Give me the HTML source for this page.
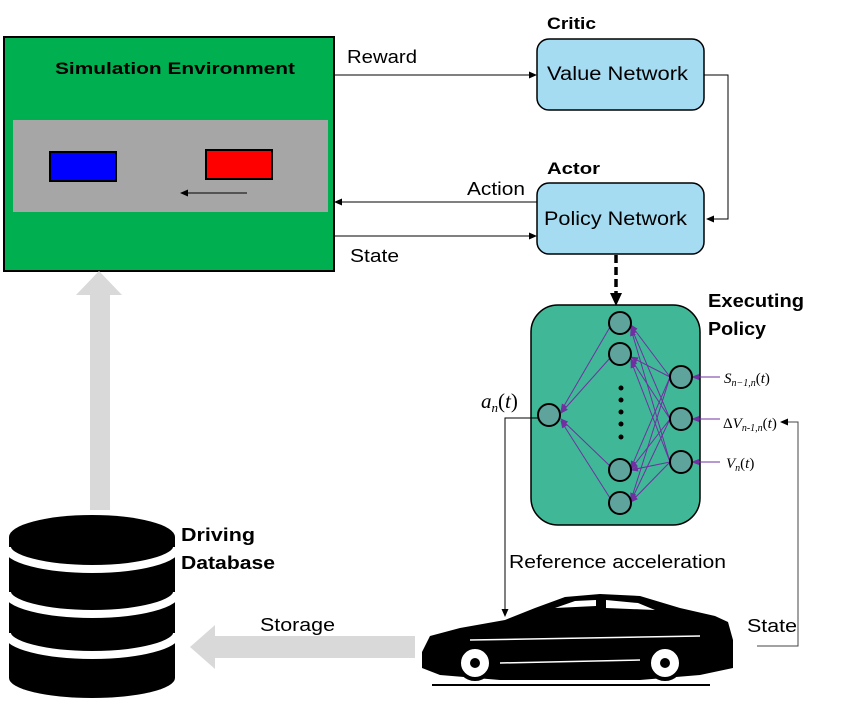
<!DOCTYPE html>
<html><head><meta charset="utf-8"><style>
html,body{margin:0;padding:0;background:#fff;}
svg{display:block;}
text{font-family:"Liberation Sans",sans-serif;}
</style></head><body>
<svg width="843" height="704" viewBox="0 0 843 704" xmlns="http://www.w3.org/2000/svg">
<defs>
<marker id="ah" markerWidth="8" markerHeight="8" refX="7" refY="4" orient="auto" markerUnits="userSpaceOnUse"><path d="M0,0.5 L8,4 L0,7.5 Z" fill="#000"/></marker>
<marker id="ahp" markerWidth="8" markerHeight="8" refX="7" refY="4" orient="auto" markerUnits="userSpaceOnUse"><path d="M0,1 L8,4 L0,7 Z" fill="#7030a0"/></marker>
</defs>

<!-- Simulation environment -->
<rect x="4" y="37" width="330" height="234" fill="#00b050" stroke="#000" stroke-width="2"/>
<text x="55" y="74" font-size="17" font-weight="bold" textLength="240" lengthAdjust="spacingAndGlyphs">Simulation Environment</text>
<rect x="13" y="120" width="315" height="92" fill="#a6a6a6"/>
<rect x="50" y="152" width="66" height="29" fill="#0000ff" stroke="#000" stroke-width="2"/>
<rect x="206" y="150" width="66" height="29" fill="#ff0000" stroke="#000" stroke-width="2"/>
<line x1="247" y1="193" x2="181" y2="193" stroke="#000" stroke-width="1" marker-end="url(#ah)"/>

<!-- Critic / Actor -->
<text x="547" y="29" font-size="17" font-weight="bold" textLength="49" lengthAdjust="spacingAndGlyphs">Critic</text>
<rect x="537" y="39" width="167" height="71" rx="12" fill="#a5dcf2" stroke="#000" stroke-width="1.5"/>
<text x="547" y="80" font-size="19" textLength="141" lengthAdjust="spacingAndGlyphs">Value Network</text>
<text x="547" y="174" font-size="17" font-weight="bold" textLength="53" lengthAdjust="spacingAndGlyphs">Actor</text>
<rect x="537" y="183" width="167" height="71" rx="12" fill="#a5dcf2" stroke="#000" stroke-width="1.5"/>
<text x="544" y="225" font-size="19" textLength="143" lengthAdjust="spacingAndGlyphs">Policy Network</text>

<!-- connectors top -->
<line x1="334" y1="75" x2="536" y2="75" stroke="#000" stroke-width="1" marker-end="url(#ah)"/>
<text x="347" y="63" font-size="18" textLength="70" lengthAdjust="spacingAndGlyphs">Reward</text>
<line x1="537" y1="202" x2="335" y2="202" stroke="#000" stroke-width="1" marker-end="url(#ah)"/>
<text x="467" y="195" font-size="18" textLength="58" lengthAdjust="spacingAndGlyphs">Action</text>
<line x1="334" y1="236" x2="536" y2="236" stroke="#000" stroke-width="1" marker-end="url(#ah)"/>
<text x="350" y="262" font-size="18" textLength="49" lengthAdjust="spacingAndGlyphs">State</text>
<polyline points="704,75 728,75 728,219 707,219" fill="none" stroke="#000" stroke-width="1" marker-end="url(#ah)"/>
<line x1="616" y1="255" x2="616" y2="295" stroke="#000" stroke-width="3.5" stroke-dasharray="8,4"/>
<path d="M610,293 L622,293 L616,306 Z" fill="#000"/>

<!-- Executing policy -->
<text x="708" y="307" font-size="18" font-weight="bold" textLength="96" lengthAdjust="spacingAndGlyphs">Executing</text>
<text x="708" y="335" font-size="18" font-weight="bold" textLength="58" lengthAdjust="spacingAndGlyphs">Policy</text>
<rect x="531" y="305" width="169" height="220" rx="27" fill="#40b898" stroke="#000" stroke-width="1.5"/>
<g stroke="#7030a0" stroke-width="1" fill="none">
<line x1="610" y1="327" x2="561" y2="411" marker-end="url(#ahp)"/>
<line x1="610" y1="358" x2="561" y2="413" marker-end="url(#ahp)"/>
<line x1="610" y1="466" x2="561" y2="419" marker-end="url(#ahp)"/>
<line x1="610" y1="498" x2="561" y2="421" marker-end="url(#ahp)"/>
<line x1="670" y1="377" x2="631" y2="325" marker-end="url(#ahp)"/>
<line x1="670" y1="377" x2="631" y2="357" marker-end="url(#ahp)"/>
<line x1="670" y1="377" x2="631" y2="468" marker-end="url(#ahp)"/>
<line x1="670" y1="377" x2="631" y2="500" marker-end="url(#ahp)"/>
<line x1="670" y1="419" x2="631" y2="327" marker-end="url(#ahp)"/>
<line x1="670" y1="419" x2="631" y2="359" marker-end="url(#ahp)"/>
<line x1="670" y1="419" x2="631" y2="469" marker-end="url(#ahp)"/>
<line x1="670" y1="419" x2="631" y2="501" marker-end="url(#ahp)"/>
<line x1="670" y1="462" x2="631" y2="329" marker-end="url(#ahp)"/>
<line x1="670" y1="462" x2="631" y2="361" marker-end="url(#ahp)"/>
<line x1="670" y1="462" x2="631" y2="470" marker-end="url(#ahp)"/>
<line x1="670" y1="462" x2="631" y2="502" marker-end="url(#ahp)"/>
<line x1="720" y1="377" x2="692" y2="377" marker-end="url(#ahp)"/>
<line x1="720" y1="419" x2="692" y2="419" marker-end="url(#ahp)"/>
<line x1="720" y1="462" x2="692" y2="462" marker-end="url(#ahp)"/>
</g>
<g fill="#5fa49c" stroke="#000" stroke-width="2">
<circle cx="620" cy="323" r="11"/>
<circle cx="620" cy="354" r="11"/>
<circle cx="620" cy="470" r="11"/>
<circle cx="620" cy="503" r="11"/>
<circle cx="549" cy="415" r="11"/>
<circle cx="681" cy="377" r="11"/>
<circle cx="681" cy="419" r="11"/>
<circle cx="681" cy="462" r="11"/>
</g>
<g fill="#000">
<circle cx="621" cy="388" r="2.5"/><circle cx="621" cy="400" r="2.5"/><circle cx="621" cy="412" r="2.5"/><circle cx="621" cy="424" r="2.5"/><circle cx="621" cy="437" r="2.5"/>
</g>
<g font-style="italic">
<text x="724" y="383" font-size="15" style="font-family:'Liberation Serif',serif">S<tspan font-size="10" dy="3">n−1,n</tspan><tspan dy="-3" font-style="normal">(</tspan>t<tspan font-style="normal">)</tspan></text>
<text x="723" y="428" font-size="15" style="font-family:'Liberation Serif',serif"><tspan font-style="normal">Δ</tspan>V<tspan font-size="10" dy="3">n-1,n</tspan><tspan dy="-3" font-style="normal">(</tspan>t<tspan font-style="normal">)</tspan></text>
<text x="726" y="468" font-size="15" style="font-family:'Liberation Serif',serif">V<tspan font-size="10" dy="3">n</tspan><tspan dy="-3" font-style="normal">(</tspan>t<tspan font-style="normal">)</tspan></text>
<text x="481" y="408" font-size="21" style="font-family:'Liberation Serif',serif">a<tspan font-size="13" dy="4">n</tspan><tspan dy="-4" font-style="normal">(</tspan>t<tspan font-style="normal">)</tspan></text>
</g>

<!-- ref acceleration / state lines -->
<polyline points="538,418 505,418 505,616" fill="none" stroke="#000" stroke-width="1" marker-end="url(#ah)"/>
<text x="509" y="568" font-size="18" textLength="217" lengthAdjust="spacingAndGlyphs">Reference acceleration</text>
<polyline points="757,646 798,646 798,422 781,422" fill="none" stroke="#444" stroke-width="1" marker-end="url(#ah)"/>
<text x="747" y="632" font-size="18" textLength="50" lengthAdjust="spacingAndGlyphs">State</text>

<!-- gray arrows -->
<path d="M90,510 L90,295 L76,295 L99,271 L122,295 L110,295 L110,510 Z" fill="#d9d9d9"/>
<path d="M415,636 L215,636 L215,625 L190,647 L215,669 L215,658 L415,658 Z" fill="#d9d9d9"/>
<text x="260" y="631" font-size="18" textLength="75" lengthAdjust="spacingAndGlyphs">Storage</text>

<!-- database -->
<path d="M9,537 A83,22 0 0 1 175,537 L175,678 A83,20 0 0 1 9,678 Z" fill="#000"/>
<g stroke="#fff" stroke-width="8" fill="none">
<path d="M7,547 A85,22 0 0 0 177,547"/>
<path d="M7,592 A85,22 0 0 0 177,592"/>
<path d="M7,633 A85,22 0 0 0 177,633"/>
</g>
<text x="181" y="541" font-size="18" font-weight="bold" textLength="74" lengthAdjust="spacingAndGlyphs">Driving</text>
<text x="181" y="569" font-size="18" font-weight="bold" textLength="94" lengthAdjust="spacingAndGlyphs">Database</text>

<!-- car -->
<path d="M422,652 L430,636 L460,628 L505,620 L535,608 L565,597 L600,594 L640,596 L680,608 L715,616 L728,622 L733,640 L733,668 L700,675 L640,680 L500,680 L440,675 L422,668 Z" fill="#000"/>
<path d="M555,608 L575,601 L596,600 L596,606 Z M606,600 L638,603 L655,610 L606,608 Z" fill="#fff"/>
<path d="M470,640 L700,636" stroke="#fff" stroke-width="1.5"/>
<path d="M500,663 L640,660" stroke="#fff" stroke-width="1.5"/>
<circle cx="475" cy="663" r="16" fill="#fff" stroke="#000" stroke-width="4"/>
<circle cx="665" cy="663" r="16" fill="#fff" stroke="#000" stroke-width="4"/>
<circle cx="475" cy="663" r="5" fill="#000"/>
<circle cx="665" cy="663" r="5" fill="#000"/>
<line x1="432" y1="685" x2="710" y2="685" stroke="#000" stroke-width="2"/>
</svg>
</body></html>
